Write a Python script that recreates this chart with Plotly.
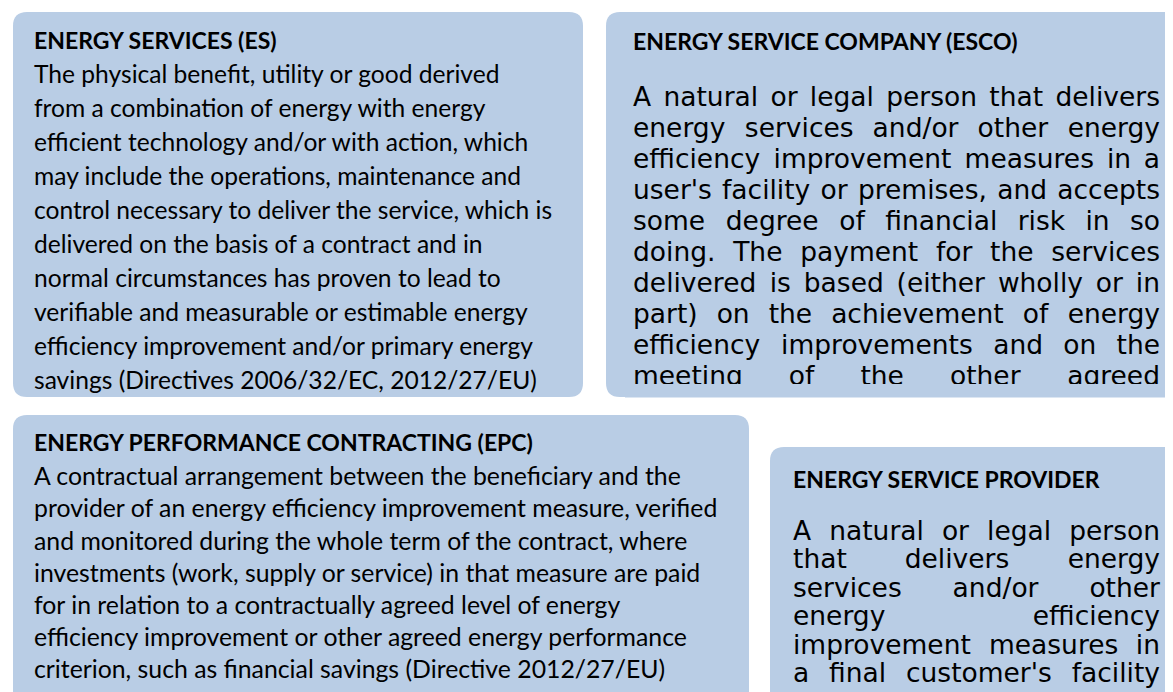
import plotly.graph_objects as go

W, H = 1173, 692
OFF = 8  # page body margin of the written html
BOX_FILL = "#B9CDE5"
TEXT_COLOR = "#000000"

# ---------------- content ----------------
es_title = "ENERGY SERVICES (ES)"
es_lines = [
    "The physical benefit, utility or good derived",
    "from a combination of energy with energy",
    "efficient technology and/or with action, which",
    "may include the operations, maintenance and",
    "control necessary to deliver the service, which is",
    "delivered on the basis of a contract and in",
    "normal circumstances has proven to lead to",
    "verifiable and measurable or estimable energy",
    "efficiency improvement and/or primary energy",
    "savings (Directives 2006/32/EC, 2012/27/EU)",
]

esco_title = "ENERGY SERVICE COMPANY (ESCO)"
esco_lines = [
    "A natural or legal person that delivers",
    "energy services and/or other energy",
    "efficiency improvement measures in a",
    "user's facility or premises, and accepts",
    "some degree of financial risk in so",
    "doing. The payment for the services",
    "delivered is based (either wholly or in",
    "part) on the achievement of energy",
    "efficiency improvements and on the",
    "meeting of the other agreed",
]

epc_title = "ENERGY PERFORMANCE CONTRACTING (EPC)"
epc_lines = [
    "A contractual arrangement between the beneficiary and the",
    "provider of an energy efficiency improvement measure, verified",
    "and monitored during the whole term of the contract, where",
    "investments (work, supply or service) in that measure are paid",
    "for in relation to a contractually agreed level of energy",
    "efficiency improvement or other agreed energy performance",
    "criterion, such as financial savings (Directive 2012/27/EU)",
]

esp_title = "ENERGY SERVICE PROVIDER"
esp_lines = [
    "A natural or legal person",
    "that delivers energy",
    "services and/or other",
    "energy efficiency",
    "improvement measures in",
    "a final customer's facility",
]

# ---------------- layout helpers ----------------
# approximate DejaVu Sans advance widths (em)
DV = {
    " ": .318, "'": .275, "(": .390, ")": .390, ",": .318, ".": .318, "/": .337,
    "A": .684, "T": .611,
    "a": .613, "b": .635, "c": .550, "d": .635, "e": .615, "f": .352, "g": .635,
    "h": .634, "i": .278, "j": .278, "k": .579, "l": .278, "m": .974, "n": .634,
    "o": .612, "p": .635, "q": .635, "r": .411, "s": .521, "t": .392, "u": .634,
    "v": .592, "w": .818, "x": .592, "y": .592, "z": .525,
}

CAL = "Lato, 'Open Sans', sans-serif"
VER = "'DejaVu Sans', Verdana, sans-serif"


def word_width(s, size):
    return sum(DV.get(c, 0.6) for c in s) * size


def rounded_rect(x0, y0, x1, y1, r):
    return (f"M{x0 + r},{y0} L{x1 - r},{y0} Q{x1},{y0} {x1},{y0 + r} "
            f"L{x1},{y1 - r} Q{x1},{y1} {x1 - r},{y1} L{x0 + r},{y1} "
            f"Q{x0},{y1} {x0},{y1 - r} L{x0},{y0 + r} Q{x0},{y0} {x0 + r},{y0} Z")


def left_block(lines, x, y_first, dy):
    xs = [x] * len(lines)
    ys = [y_first + k * dy for k in range(len(lines))]
    return xs, ys, list(lines)


def justified_block(lines, x_left, x_right, y_first, dy, size, last_left=True):
    xs, ys, txt, pos = [], [], [], []
    for k, line in enumerate(lines):
        y = y_first + k * dy
        words = line.split(" ")
        if (last_left and k == len(lines) - 1) or len(words) == 1:
            xs.append(x_left); ys.append(y); txt.append(line); pos.append("middle right")
            continue
        widths = [word_width(w, size) for w in words]
        gap = (x_right - x_left - sum(widths)) / (len(words) - 1)
        cur = x_left
        for i, (w, wd) in enumerate(zip(words, widths)):
            if i == 0:
                xs.append(x_left); pos.append("middle right")
            elif i == len(words) - 1:
                xs.append(x_right); pos.append("middle left")
            else:
                xs.append(cur + wd / 2); pos.append("middle center")
            ys.append(y); txt.append(w)
            cur += wd + gap
    return xs, ys, txt, pos


def title_trace(x, y, title, size):
    return go.Scatter(x=[x], y=[y], text=[f"<b>{title}</b>"], mode="text",
                      textposition="middle right",
                      textfont=dict(family=CAL, size=size, color=TEXT_COLOR),
                      hoverinfo="skip")


fig = go.Figure()

# boxes
boxes = [
    (13, 12, 583, 397),
    (606, 12, 1190, 397),
    (13, 415, 749, 712),
    (770, 447, 1190, 712),
]
for (x0, y0, x1, y1) in boxes:
    fig.add_shape(type="path", path=rounded_rect(x0, y0, x1, y1, 14),
                  fillcolor=BOX_FILL, line=dict(width=0), layer="below")

TSIZE = 23

# Box 1 - ES
fig.add_trace(title_trace(34, 43, es_title, TSIZE))
xs, ys, txt = left_block(es_lines, 34, 77, 34.0)
fig.add_trace(go.Scatter(x=xs, y=ys, text=txt, mode="text", textposition="middle right",
                         textfont=dict(family=CAL, size=24.6, color=TEXT_COLOR),
                         hoverinfo="skip"))

# Box 3 - EPC
fig.add_trace(title_trace(34, 445, epc_title, TSIZE))
xs, ys, txt = left_block(epc_lines, 34, 479, 32.2)
fig.add_trace(go.Scatter(x=xs, y=ys, text=txt, mode="text", textposition="middle right",
                         textfont=dict(family=CAL, size=24.8, color=TEXT_COLOR),
                         hoverinfo="skip"))

# Box 2 - ESCO
VSIZE = 26.5
fig.add_trace(title_trace(633, 44, esco_title, TSIZE))
xs, ys, txt, pos = justified_block(esco_lines, 633, 1160, 99, 31.0, VSIZE, last_left=False)
fig.add_trace(go.Scatter(x=xs, y=ys, text=txt, mode="text", textposition=pos,
                         textfont=dict(family=VER, size=VSIZE, color=TEXT_COLOR),
                         hoverinfo="skip"))

# Box 4 - provider
fig.add_trace(title_trace(793, 482, esp_title, TSIZE))
xs, ys, txt, pos = justified_block(esp_lines, 793, 1160, 533, 28.5, VSIZE, last_left=False)
fig.add_trace(go.Scatter(x=xs, y=ys, text=txt, mode="text", textposition=pos,
                         textfont=dict(family=VER, size=VSIZE, color=TEXT_COLOR),
                         hoverinfo="skip"))

# clip of the ESCO text frame
fig.add_shape(type="rect", x0=625, x1=1190, y0=384, y1=397.5,
              fillcolor=BOX_FILL, line=dict(width=0), layer="above")

fig.update_layout(
    width=W, height=H, autosize=False,
    margin=dict(l=0, r=0, t=0, b=0),
    paper_bgcolor="white", plot_bgcolor="white",
    showlegend=False,
    xaxis=dict(range=[OFF, W + OFF], visible=False, fixedrange=True),
    yaxis=dict(range=[H + OFF, OFF], visible=False, fixedrange=True),
)

fig.write_html("out.html")
